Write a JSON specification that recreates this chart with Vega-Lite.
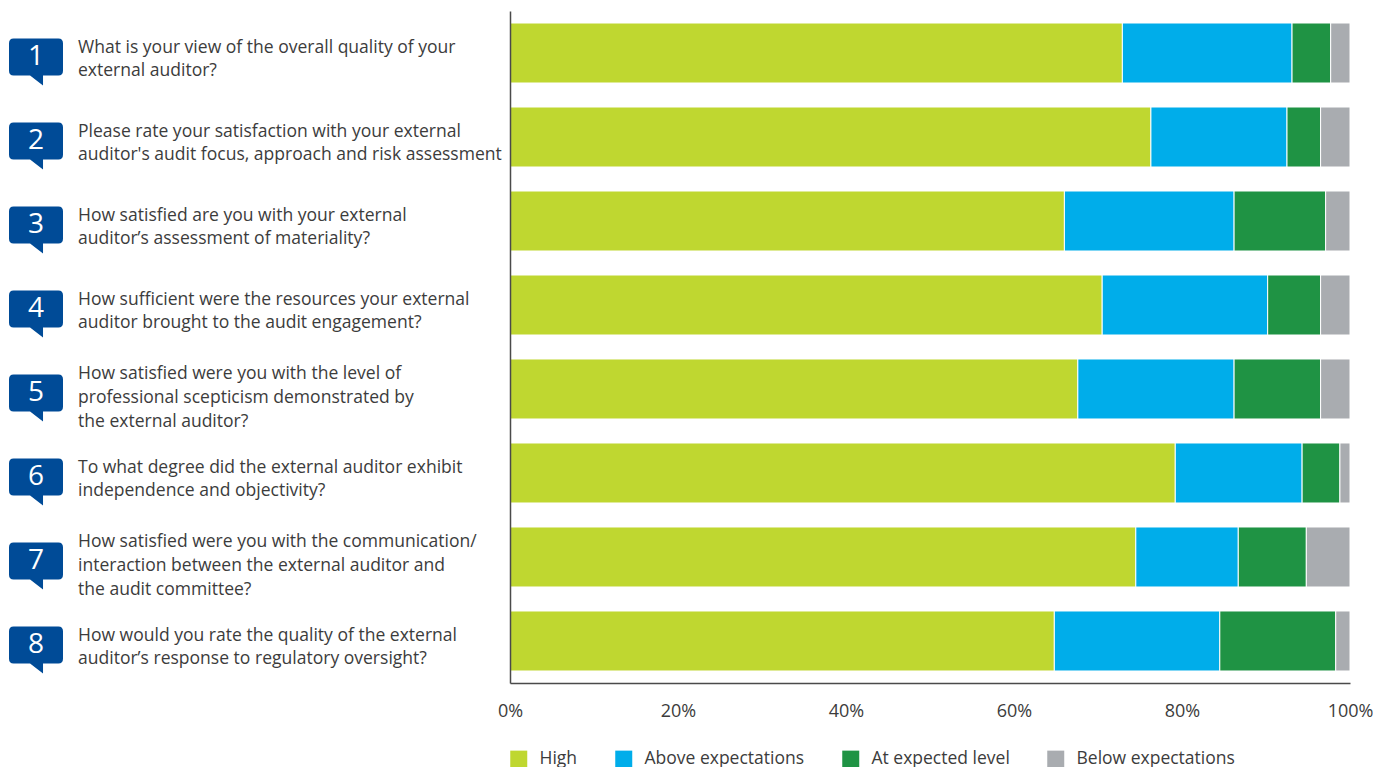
{
  "$schema": "https://vega.github.io/schema/vega-lite/v6.json",
  "padding": {"left": 0, "top": 11, "right": 0, "bottom": 0},
  "background": "white",
  "bounds": "flush",
  "spacing": 0,
  "config": {"view": {"stroke": null}, "font": "Open Sans"},
  "datasets": {
    "questions": [
      {"n": "1", "lines": 2, "question": "What is your view of the overall quality of your\nexternal auditor?"},
      {"n": "2", "lines": 2, "question": "Please rate your satisfaction with your external\nauditor's audit focus, approach and risk assessment"},
      {"n": "3", "lines": 2, "question": "How satisfied are you with your external\nauditor’s assessment of materiality?"},
      {"n": "4", "lines": 2, "question": "How sufficient were the resources your external\nauditor brought to the audit engagement?"},
      {"n": "5", "lines": 3, "question": "How satisfied were you with the level of\nprofessional scepticism demonstrated by\nthe external auditor?"},
      {"n": "6", "lines": 2, "question": "To what degree did the external auditor exhibit\nindependence and objectivity?"},
      {"n": "7", "lines": 3, "question": "How satisfied were you with the communication/\ninteraction between the external auditor and\nthe audit committee?"},
      {"n": "8", "lines": 2, "question": "How would you rate the quality of the external\nauditor’s response to regulatory oversight?"}
    ],
    "responses": [
      {"n": "1", "rating": "High", "rank": 1, "share": 72.9},
      {"n": "1", "rating": "Above expectations", "rank": 2, "share": 20.2},
      {"n": "1", "rating": "At expected level", "rank": 3, "share": 4.6},
      {"n": "1", "rating": "Below expectations", "rank": 4, "share": 2.3},
      {"n": "2", "rating": "High", "rank": 1, "share": 76.3},
      {"n": "2", "rating": "Above expectations", "rank": 2, "share": 16.2},
      {"n": "2", "rating": "At expected level", "rank": 3, "share": 4.0},
      {"n": "2", "rating": "Below expectations", "rank": 4, "share": 3.5},
      {"n": "3", "rating": "High", "rank": 1, "share": 66.0},
      {"n": "3", "rating": "Above expectations", "rank": 2, "share": 20.2},
      {"n": "3", "rating": "At expected level", "rank": 3, "share": 10.9},
      {"n": "3", "rating": "Below expectations", "rank": 4, "share": 2.9},
      {"n": "4", "rating": "High", "rank": 1, "share": 70.5},
      {"n": "4", "rating": "Above expectations", "rank": 2, "share": 19.7},
      {"n": "4", "rating": "At expected level", "rank": 3, "share": 6.3},
      {"n": "4", "rating": "Below expectations", "rank": 4, "share": 3.5},
      {"n": "5", "rating": "High", "rank": 1, "share": 67.6},
      {"n": "5", "rating": "Above expectations", "rank": 2, "share": 18.6},
      {"n": "5", "rating": "At expected level", "rank": 3, "share": 10.3},
      {"n": "5", "rating": "Below expectations", "rank": 4, "share": 3.5},
      {"n": "6", "rating": "High", "rank": 1, "share": 79.2},
      {"n": "6", "rating": "Above expectations", "rank": 2, "share": 15.1},
      {"n": "6", "rating": "At expected level", "rank": 3, "share": 4.5},
      {"n": "6", "rating": "Below expectations", "rank": 4, "share": 1.2},
      {"n": "7", "rating": "High", "rank": 1, "share": 74.5},
      {"n": "7", "rating": "Above expectations", "rank": 2, "share": 12.2},
      {"n": "7", "rating": "At expected level", "rank": 3, "share": 8.1},
      {"n": "7", "rating": "Below expectations", "rank": 4, "share": 5.2},
      {"n": "8", "rating": "High", "rank": 1, "share": 64.8},
      {"n": "8", "rating": "Above expectations", "rank": 2, "share": 19.7},
      {"n": "8", "rating": "At expected level", "rank": 3, "share": 13.8},
      {"n": "8", "rating": "Below expectations", "rank": 4, "share": 1.7}
    ]
  },
  "hconcat": [
    {
      "width": 510,
      "height": 672,
      "data": {"name": "questions"},
      "encoding": {
        "y": {"field": "n", "type": "ordinal", "axis": null, "scale": {"type": "band", "paddingInner": 0, "paddingOuter": 0}}
      },
      "layer": [
        {
          "mark": {
            "type": "point",
            "filled": true,
            "opacity": 1,
            "color": "#004b97",
            "size": 2916,
            "shape": "M-.83,-.537 Q-1,-.537 -1,-.363 L-1,.657 Q-1,.833 -.83,.833 L-.22,.833 L.26,1.204 L.26,.833 L.83,.833 Q1,.833 1,.657 L1,-.363 Q1,-.537 .83,-.537 Z"
          },
          "encoding": {
            "x": {"datum": "badge", "type": "nominal", "axis": null, "scale": {"type": "point", "domain": ["badge", "question"], "range": [36, 78], "padding": 0}}
          }
        },
        {
          "mark": {"type": "text", "color": "white", "font": "Open Sans", "fontSize": 28, "align": "center", "baseline": "middle", "dy": 4},
          "encoding": {
            "x": {"datum": "badge", "type": "nominal"},
            "text": {"field": "n"}
          }
        },
        {
          "transform": [{"filter": "datum.lines === 2"}],
          "mark": {"type": "text", "color": "#3c3c3c", "font": "Open Sans", "fontSize": 17.55, "align": "left", "baseline": "middle", "lineBreak": "\n", "lineHeight": 23.5, "dy": -5.5},
          "encoding": {
            "x": {"datum": "question", "type": "nominal"},
            "text": {"field": "question"}
          }
        },
        {
          "transform": [{"filter": "datum.lines === 3"}],
          "mark": {"type": "text", "color": "#3c3c3c", "font": "Open Sans", "fontSize": 17.55, "align": "left", "baseline": "middle", "lineBreak": "\n", "lineHeight": 24, "dy": -15.5},
          "encoding": {
            "x": {"datum": "question", "type": "nominal"},
            "text": {"field": "question"}
          }
        }
      ]
    },
    {
      "width": 840,
      "height": 672,
      "data": {"name": "responses"},
      "mark": {"type": "bar", "stroke": "white", "strokeWidth": 1},
      "encoding": {
        "y": {
          "field": "n",
          "type": "ordinal",
          "scale": {"type": "band", "paddingInner": 0.2857, "paddingOuter": 0.1429},
          "axis": {"title": null, "labels": false, "ticks": false, "domain": true, "domainColor": "#4a4a4a", "domainWidth": 1.5, "zindex": 1}
        },
        "x": {
          "field": "share",
          "type": "quantitative",
          "stack": "zero",
          "scale": {"domain": [0, 100], "nice": false},
          "axis": {
            "title": null,
            "values": [0, 20, 40, 60, 80, 100],
            "labelExpr": "datum.value + '%'",
            "labelFlush": false,
            "grid": false,
            "ticks": false,
            "domain": true,
            "domainColor": "#4a4a4a",
            "domainWidth": 1.5,
            "zindex": 1,
            "labelPadding": 19,
            "labelFont": "Open Sans",
            "labelFontSize": 18,
            "labelColor": "#3c3c3c",
            "labelFontWeight": "normal"
          }
        },
        "order": {"field": "rank", "type": "quantitative"},
        "color": {
          "field": "rating",
          "type": "nominal",
          "scale": {
            "domain": ["High", "Above expectations", "At expected level", "Below expectations"],
            "range": ["#bfd730", "#00adea", "#1f9344", "#a9acb0"]
          },
          "legend": {
            "title": null,
            "orient": "none",
            "legendX": 510,
            "legendY": 739,
            "direction": "horizontal",
            "columns": 4,
            "columnPadding": 37,
            "symbolType": "square",
            "symbolSize": 289,
            "symbolStrokeWidth": 0,
            "labelOffset": 12,
            "labelFont": "Open Sans",
            "labelFontSize": 17.5,
            "labelColor": "#3c3c3c"
          }
        }
      }
    }
  ]
}
